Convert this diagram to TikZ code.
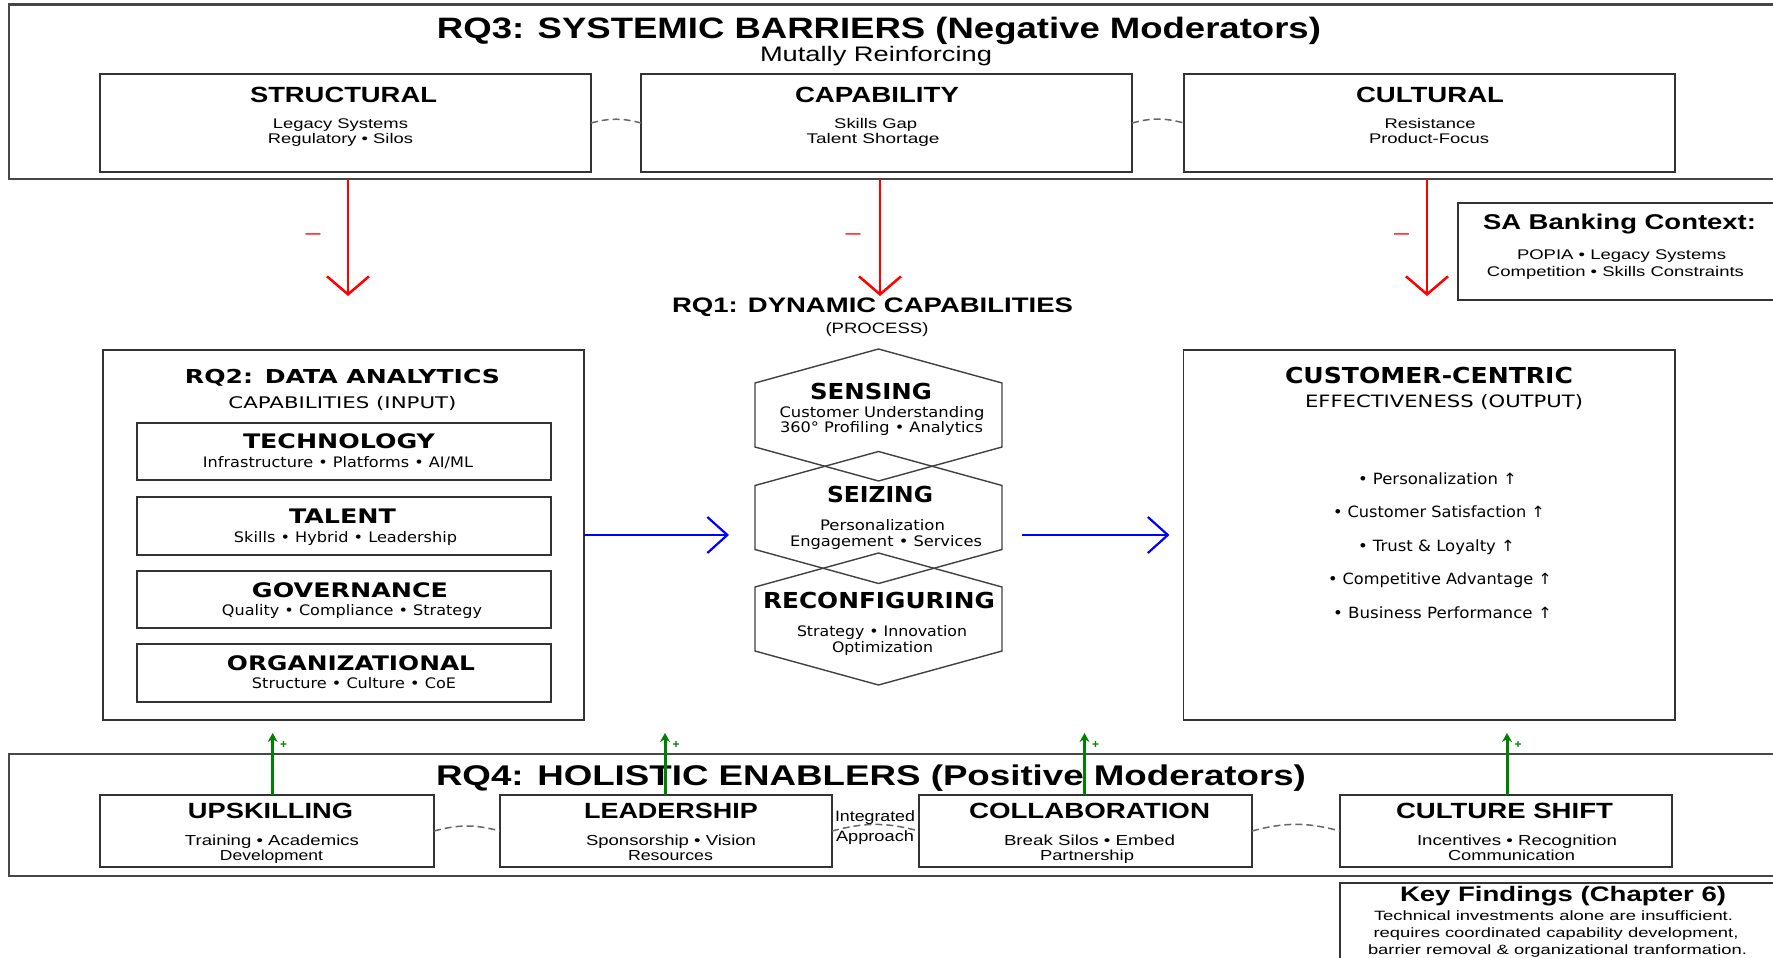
\documentclass[tikz,border=0pt]{standalone}
\usepackage{fontspec}
\usepackage{graphicx}
\usetikzlibrary{arrows.meta,calc}
\newfontfamily\lsans{Liberation Sans}
\newfontfamily\dvsans{DejaVu Sans}
\newcommand\fs[1]{\fontsize{#1}{#1}\selectfont}
% set a line of text to a given width, keeping its natural height
\newcommand\fw[2]{\resizebox{#1pt}{\height}{#2}}
\newcommand\hexagon[1]{%
  \draw[hexline] (#1.north) -- ($(#1.north east)+(0,34)$) -- ($(#1.south east)+(0,-34)$)
    -- (#1.south) -- ($(#1.south west)+(0,-34)$) -- ($(#1.north west)+(0,34)$) -- cycle;}
\tikzset{
  lbl/.style={inner sep=0pt, outer sep=0pt, anchor=base},
  bigtitle/.style={lbl, font=\lsans\bfseries\fs{29.5}},
  subtitle/.style={lbl, font=\lsans\fs{21}},
  hd/.style={lbl, font=\lsans\bfseries\fs{22}},
  sm/.style={lbl, font=\lsans\fs{14}},
  dvhd/.style={lbl, font=\dvsans\bfseries\fs{20}},
  dvhex/.style={lbl, font=\dvsans\bfseries\fs{22}},
  dvsm/.style={lbl, font=\dvsans\fs{14.5}},
  panel/.style={draw=black!80, line width=1.8pt, inner sep=0pt, outer sep=0pt},
  bigframe/.style={draw=black!72, line width=2.3pt, inner sep=0pt, outer sep=0pt},
  shell/.style={inner sep=0pt, outer sep=0pt, minimum width=247pt, minimum height=132pt},
  hexline/.style={draw=black!75, line width=1.4pt},
  link/.style={draw=black!60, line width=1.5pt, dash pattern=on 7pt off 4pt},
  barrierarr/.style={draw=red, line width=2.5pt, -{Straight Barb[length=18pt,width=42pt]}},
  flowarr/.style={draw=blue, line width=2.2pt, -{Straight Barb[length=20pt,width=36pt]}},
  enablearr/.style={draw=green!50!black, line width=3pt, -{Stealth[length=9pt,width=10pt]}},
  neglbl/.style={lbl, text=red, font=\lsans\fs{20}},
  poslbl/.style={lbl, text=green!50!black, font=\lsans\bfseries\fs{12}},
}
\begin{document}
\begin{tikzpicture}[x=1pt,y=-1pt]
\useasboundingbox (0,0) rectangle (1773,958);
\clip (0,0) rectangle (1773,958);

% ---------- RQ3 barriers ----------
\node[bigframe, minimum width=1791pt, minimum height=174.5pt] (rq3) at (904.5,91.75) {};
\node[bigtitle] (rq3t) at (879,38.5) {\fw{884}{RQ3: SYSTEMIC BARRIERS (Negative Moderators)}};
\node[subtitle] (rq3s) at (876,62) {\fw{232}{Mutally Reinforcing}};

\node[panel, minimum width=491pt, minimum height=98pt] (struct) at (345.5,123) {};
\node[panel, minimum width=491pt, minimum height=98pt] (capab) at (886.5,123) {};
\node[panel, minimum width=491pt, minimum height=98pt] (cultu) at (1429.5,123) {};

\node[hd] (structT) at (343.5,102.7) {\fw{187}{STRUCTURAL}};
\node[sm] (structA) at (340.5,128.3) {\fw{135}{Legacy Systems}};
\node[sm] (structB) at (340.5,143.3) {\fw{145}{Regulatory • Silos}};
\node[hd] (capabT) at (877,102.7) {\fw{164}{CAPABILITY}};
\node[sm] (capabA) at (875.7,128.3) {\fw{83}{Skills Gap}};
\node[sm] (capabB) at (873,143.3) {\fw{133}{Talent Shortage}};
\node[hd] (cultuT) at (1430,102.7) {\fw{148}{CULTURAL}};
\node[sm] (cultuA) at (1430,128.3) {\fw{91}{Resistance}};
\node[sm] (cultuB) at (1429,143.3) {\fw{120}{Product-Focus}};

\draw[link] (struct.east) to[bend left=15] (capab.west);
\draw[link] (capab.east) to[bend left=15] (cultu.west);

% negative moderation arrows
\coordinate (n1) at (348,296);
\coordinate (n2) at (880,296);
\coordinate (n3) at (1427,296);
\draw[barrierarr] (n1 |- rq3.south) -- (n1);
\draw[barrierarr] (n2 |- rq3.south) -- (n2);
\draw[barrierarr] (n3 |- rq3.south) -- (n3);
\node[neglbl] (m1) at (313,239) {\fw{15}{–}};
\node[neglbl] (m2) at (853,239) {\fw{15}{–}};
\node[neglbl] (m3) at (1401.5,239) {\fw{15}{–}};

% ---------- context ----------
\node[panel, minimum width=342pt, minimum height=97pt] (sa) at (1629,251.5) {};
\node[lbl, font=\lsans\bfseries\fs{21.4}] (saT) at (1619.5,229) {\fw{273}{SA Banking Context:}};
\node[sm] (saA) at (1621.5,259) {\fw{209}{POPIA • Legacy Systems}};
\node[sm] (saB) at (1615.5,276) {\fw{257}{Competition • Skills Constraints}};

% ---------- RQ1 process ----------
\node[lbl, font=\lsans\bfseries\fs{21}] (rq1t) at (872.5,312) {\fw{401}{RQ1: DYNAMIC CAPABILITIES}};
\node[lbl, font=\lsans\fs{15}] (rq1s) at (877,333.5) {\fw{103}{(PROCESS)}};

\node[shell] (sens) at (878.5,415) {};
\node[shell] (seiz) at (878.5,517.5) {};
\node[shell] (reco) at (878.5,619) {};
\hexagon{sens}
\hexagon{seiz}
\hexagon{reco}

\node[dvhex] (sensT) at (871,399.3) {\fw{122}{SENSING}};
\node[dvsm] (sensA) at (882,417) {\fw{205}{Customer Understanding}};
\node[dvsm] (sensB) at (881.5,432.5) {\fw{203}{360° Profiling • Analytics}};
\node[dvhex] (seizT) at (880,502) {\fw{106}{SEIZING}};
\node[dvsm] (seizA) at (882.5,530) {\fw{125}{Personalization}};
\node[dvsm] (seizB) at (886,546.7) {\fw{192}{Engagement • Services}};
\node[dvhex] (recoT) at (879,608) {\fw{232}{RECONFIGURING}};
\node[dvsm] (recoA) at (882,636.5) {\fw{170}{Strategy • Innovation}};
\node[dvsm] (recoB) at (882.5,652.7) {\fw{101}{Optimization}};

% ---------- RQ2 inputs ----------
\node[panel, minimum width=481pt, minimum height=370pt] (rq2) at (343.5,535) {};
\node[lbl, font=\dvsans\bfseries\fs{19.2}] (rq2t) at (342.5,383.3) {\fw{315}{RQ2: DATA ANALYTICS}};
\node[lbl, font=\dvsans\fs{16}] (rq2s) at (342.5,408) {\fw{228}{CAPABILITIES (INPUT)}};

\node[panel, minimum width=414pt, minimum height=57pt] (tech) at (344,451.5) {};
\node[panel, minimum width=414pt, minimum height=58pt] (tale) at (344,526) {};
\node[panel, minimum width=414pt, minimum height=57pt] (gove) at (344,599.5) {};
\node[panel, minimum width=414pt, minimum height=58pt] (orga) at (344,673) {};

\node[dvhd] (techT) at (339,448) {\fw{192}{TECHNOLOGY}};
\node[dvsm] (techA) at (338,467) {\fw{270}{Infrastructure • Platforms • AI/ML}};
\node[dvhd] (taleT) at (342.5,523) {\fw{107}{TALENT}};
\node[dvsm] (taleA) at (345.5,542) {\fw{223}{Skills • Hybrid • Leadership}};
\node[dvhd] (goveT) at (350,597) {\fw{196}{GOVERNANCE}};
\node[dvsm] (goveA) at (352,615) {\fw{260}{Quality • Compliance • Strategy}};
\node[dvhd] (orgaT) at (351,670) {\fw{248}{ORGANIZATIONAL}};
\node[dvsm] (orgaA) at (354,688) {\fw{204}{Structure • Culture • CoE}};

% ---------- outputs ----------
\node[panel, minimum width=491.5pt, minimum height=370pt] (out) at (1429.25,535) {};
\node[dvhex] (outT) at (1429,383.3) {\fw{288}{CUSTOMER-CENTRIC}};
\node[lbl, font=\dvsans\fs{17}] (outS) at (1444,407.3) {\fw{278}{EFFECTIVENESS (OUTPUT)}};
\node[lbl, font=\dvsans\fs{15.5}] (o1) at (1437.5,484) {\fw{159}{• Personalization ↑}};
\node[lbl, font=\dvsans\fs{15.5}] (o2) at (1439,517.5) {\fw{212}{• Customer Satisfaction ↑}};
\node[lbl, font=\dvsans\fs{15.5}] (o3) at (1436.5,551) {\fw{157}{• Trust \& Loyalty ↑}};
\node[lbl, font=\dvsans\fs{15.5}] (o4) at (1440,584.5) {\fw{224}{• Competitive Advantage ↑}};
\node[lbl, font=\dvsans\fs{15.5}] (o5) at (1442.5,618) {\fw{219}{• Business Performance ↑}};

% main flow
\draw[flowarr, shorten >=26pt] (rq2.east) -- (rq2.east -| seiz.west);
\draw[flowarr, shorten <=20pt, shorten >=14pt] (out.west -| seiz.east) -- (out.west);

% ---------- RQ4 enablers ----------
\node[bigframe, minimum width=1791pt, minimum height=122pt] (rq4) at (904.5,815) {};
\node[lbl, font=\lsans\bfseries\fs{28.5}] (rq4t) at (871,785) {\fw{870}{RQ4: HOLISTIC ENABLERS (Positive Moderators)}};

\node[panel, minimum width=334pt, minimum height=72pt] (upsk) at (267,831) {};
\node[panel, minimum width=332pt, minimum height=72pt] (lead) at (666,831) {};
\node[panel, minimum width=333pt, minimum height=72pt] (coll) at (1085.5,831) {};
\node[panel, minimum width=332pt, minimum height=72pt] (cshf) at (1506,831) {};

\node[hd] (upskT) at (270.5,818) {\fw{165}{UPSKILLING}};
\node[sm, font=\lsans\fs{14.5}] (upskA) at (272,845) {\fw{174}{Training • Academics}};
\node[sm, font=\lsans\fs{14.5}] (upskB) at (271.5,860) {\fw{103}{Development}};
\node[hd] (leadT) at (671,818) {\fw{174}{LEADERSHIP}};
\node[sm, font=\lsans\fs{14.5}] (leadA) at (671,845) {\fw{170}{Sponsorship • Vision}};
\node[sm, font=\lsans\fs{14.5}] (leadB) at (670.5,860) {\fw{85}{Resources}};
\node[hd] (collT) at (1089.5,818) {\fw{241}{COLLABORATION}};
\node[sm, font=\lsans\fs{14.5}] (collA) at (1089.5,845) {\fw{171}{Break Silos • Embed}};
\node[sm, font=\lsans\fs{14.5}] (collB) at (1087,860) {\fw{94}{Partnership}};
\node[hd] (cshfT) at (1504.5,818) {\fw{217}{CULTURE SHIFT}};
\node[sm, font=\lsans\fs{14.5}] (cshfA) at (1517,845) {\fw{200}{Incentives • Recognition}};
\node[sm, font=\lsans\fs{14.5}] (cshfB) at (1511.5,860) {\fw{127}{Communication}};

\draw[link] (upsk.east) to[bend left=15] (lead.west);
\draw[link] (lead.east) to[bend left=15] (coll.west);
\draw[link] (coll.east) to[bend left=15] (cshf.west);
\node[lbl, font=\lsans\fs{15}] (intA) at (875,821) {\fw{80}{Integrated}};
\node[lbl, font=\lsans\fs{15}] (intB) at (875,841.7) {\fw{78}{Approach}};

% positive moderation arrows
\coordinate (p1) at (272.7,733);
\coordinate (p2) at (665,733);
\coordinate (p3) at (1084.5,733);
\coordinate (p4) at (1507,733);
\draw[enablearr] (p1 |- upsk.north) -- (p1);
\draw[enablearr] (p2 |- lead.north) -- (p2);
\draw[enablearr] (p3 |- coll.north) -- (p3);
\draw[enablearr] (p4 |- cshf.north) -- (p4);
\node[poslbl] (q1) at (283.7,748) {+};
\node[poslbl] (q2) at (676,748) {+};
\node[poslbl] (q3) at (1095.5,748) {+};
\node[poslbl] (q4) at (1518,748) {+};

% ---------- key findings ----------
\node[panel, minimum width=460pt, minimum height=117pt] (key) at (1570,941.5) {};
\node[lbl, font=\lsans\bfseries\fs{21}] (keyT) at (1563,901.7) {\fw{326}{Key Findings (Chapter 6)}};
\node[lbl, font=\lsans\fs{13.5}] (keyA) at (1553.5,920) {\fw{359}{Technical investments alone are insufficient.}};
\node[lbl, font=\lsans\fs{13.5}] (keyB) at (1556,937) {\fw{365}{requires coordinated capability development,}};
\node[lbl, font=\lsans\fs{13.5}] (keyC) at (1557.5,954) {\fw{379}{barrier removal \& organizational tranformation.}};
\end{tikzpicture}
\end{document}
